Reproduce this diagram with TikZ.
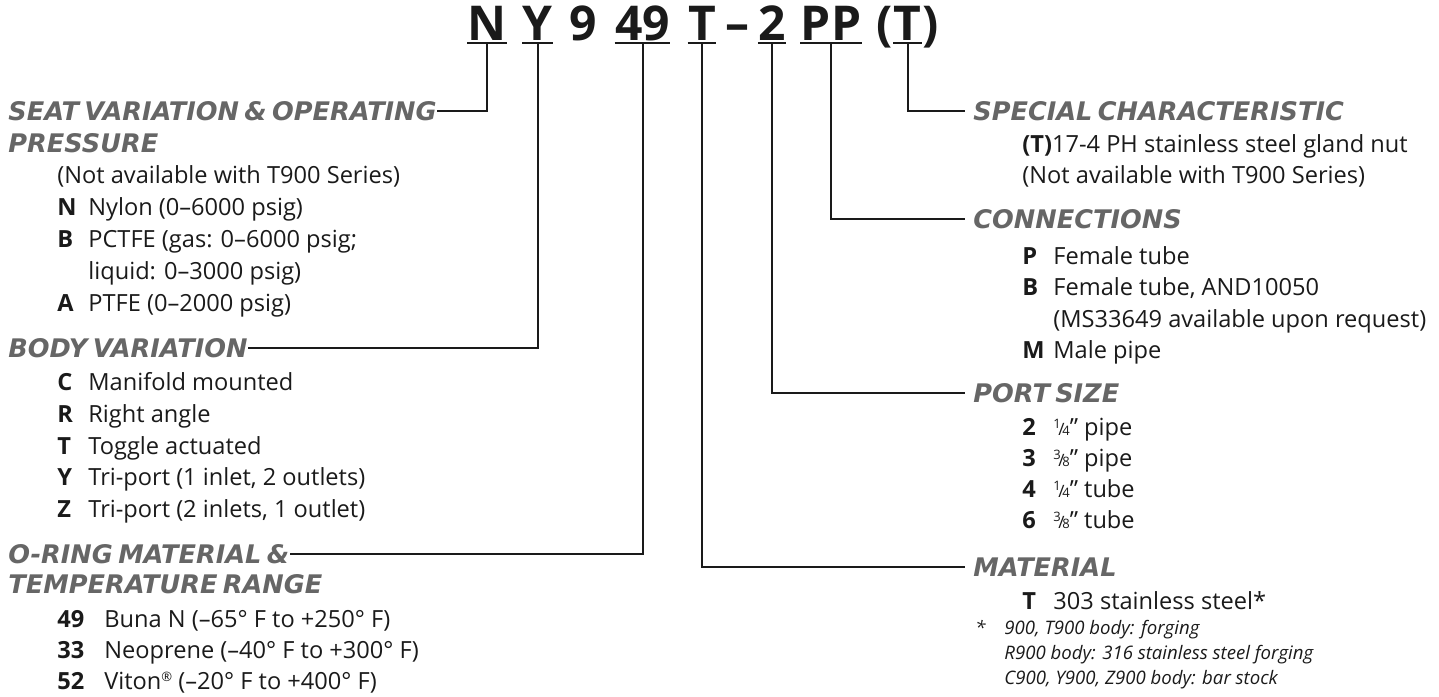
\documentclass[tikz,border=0pt]{standalone}
\usepackage{fontspec}
\setmainfont{Open Sans}
\newfontfamily\headfont[WordSpace=0.6]{DejaVu Sans}
\usetikzlibrary{positioning}
\definecolor{headgray}{HTML}{666666}
\definecolor{inkblack}{HTML}{1A1A1A}
\newcommand\codeone[1]{\makebox[15.5pt][l]{\bfseries #1}}
\newcommand\codetwo[1]{\makebox[23.5pt][l]{\bfseries #1}}
\newcommand\pfrac[2]{\raisebox{.55ex}{\fontsize{6.5}{6.5}\selectfont #1}\kern-.1em{\fontsize{8.5}{8.5}\selectfont/}\kern-.1em{\fontsize{6.5}{6.5}\selectfont #2}}
\newcommand\inch{\textquotedblright}
\newcommand\regmark{\raisebox{.6ex}{\fontsize{6.5}{6.5}\selectfont\textregistered}}

\begin{document}
\begin{tikzpicture}[x=0.5pt, y=-0.5pt,
  title/.style={inner sep=0pt, anchor=base, font=\fontsize{24}{30}\selectfont\bfseries, text=inkblack},
  head/.style={inner sep=0pt, anchor=base west, font=\headfont\fontsize{12.8}{15}\selectfont\bfseries\itshape, text=headgray},
  item/.style={inner sep=0pt, anchor=base west, font=\fontsize{11.8}{14}\selectfont, text=inkblack},
  note/.style={inner sep=0pt, anchor=base west, font=\fontsize{9.3}{11}\selectfont\itshape, text=inkblack},
  uline/.style={line width=1pt, draw=inkblack},
  link/.style={line width=1pt, draw=inkblack}]

\useasboundingbox (0,0) rectangle (1439,696);

% part number
\node[title] (tN) at (487,40) {N};
\node[title] (tY) at (537.5,40) {Y};
\node[title] (t9) at (583.5,40) {9};
\node[title] (t49) at (642.5,40) {49};
\node[title] (tT) at (702,40) {T};
\node[title] (tDash) at (737.5,40) {--};
\node[title] (t2) at (772,40) {2};
\node[title] (tPP) at (831,40) {PP};
\node[title] (tS) at (907.5,40) {T};
\node[title, base left=0pt of tS] (tSl) {(};
\node[title, base right=0pt of tS] (tSr) {)};

\draw[uline] ([yshift=-1.5pt]tN.base west) -- ([yshift=-1.5pt]tN.base east);
\draw[uline] ([yshift=-1.5pt]tY.base west) -- ([yshift=-1.5pt]tY.base east);
\draw[uline] ([yshift=-1.5pt]t49.base west) -- ([yshift=-1.5pt]t49.base east);
\draw[uline] ([yshift=-1.5pt]tT.base west) -- ([yshift=-1.5pt]tT.base east);
\draw[uline] ([yshift=-1.5pt]t2.base west) -- ([yshift=-1.5pt]t2.base east);
\draw[uline] ([yshift=-1.5pt]tPP.base west) -- ([yshift=-1.5pt]tPP.base east);
\draw[uline] ([yshift=-1.5pt]tS.base west) -- ([yshift=-1.5pt]tS.base east);

% left column
\node[head] (hSeat) at (8,120) {SEAT VARIATION \& OPERATING};
\node[head] (hSeat2) at (8,152) {PRESSURE};
\node[item] (sNote) at (57,183) {(Not available with T900 Series)};
\node[item] (sN) at (57,215) {\codeone{N}Nylon (0--6000 psig)};
\node[item] (sB) at (57,247) {\codeone{B}PCTFE (gas: 0--6000 psig;};
\node[item] (sB2) at (88,279) {liquid: 0--3000 psig)};
\node[item] (sA) at (57,311) {\codeone{A}PTFE (0--2000 psig)};

\node[head] (hBody) at (8,357) {BODY VARIATION};
\node[item] (bC) at (57,390) {\codeone{C}Manifold mounted};
\node[item] (bR) at (57,422) {\codeone{R}Right angle};
\node[item] (bT) at (57,454) {\codeone{T}Toggle actuated};
\node[item] (bY) at (57,485) {\codeone{Y}Tri-port (1 inlet, 2 outlets)};
\node[item] (bZ) at (57,517) {\codeone{Z}Tri-port (2 inlets, 1 outlet)};

\node[head] (hOring) at (8,563) {O-RING MATERIAL \&};
\node[head] (hOring2) at (8,593) {TEMPERATURE RANGE};
\node[item] (o49) at (57,627) {\codetwo{49}Buna N (--65° F to +250° F)};
\node[item] (o33) at (57,658) {\codetwo{33}Neoprene (--40° F to +300° F)};
\node[item] (o52) at (57,689) {\codetwo{52}Viton\regmark{} (--20° F to +400° F)};

% right column
\node[head] (hSpec) at (973,120) {SPECIAL CHARACTERISTIC};
\node[item] (pT) at (1022,152) {\textbf{(T)}17-4 PH stainless steel gland nut};
\node[item] (pNote) at (1022,183) {(Not available with T900 Series)};

\node[head] (hConn) at (973,228) {CONNECTIONS};
\node[item] (cP) at (1022,264) {\codeone{P}Female tube};
\node[item] (cB) at (1022,295) {\codeone{B}Female tube, AND10050};
\node[item] (cB2) at (1053,327) {(MS33649 available upon request)};
\node[item] (cM) at (1022,358) {\codeone{M}Male pipe};

\node[head] (hPort) at (973,402) {PORT SIZE};
\node[item] (z2) at (1022,435) {\codeone{2}\pfrac{1}{4}\inch{} pipe};
\node[item] (z3) at (1022,466) {\codeone{3}\pfrac{3}{8}\inch{} pipe};
\node[item] (z4) at (1022,497) {\codeone{4}\pfrac{1}{4}\inch{} tube};
\node[item] (z6) at (1022,528) {\codeone{6}\pfrac{3}{8}\inch{} tube};

\node[head] (hMat) at (973,576) {MATERIAL};
\node[item] (mT) at (1022,609) {\codeone{T}303 stainless steel*};
\node[note] (fStar) at (975,634) {*};
\node[note] (f1) at (1004,634) {900, T900 body: forging};
\node[note] (f2) at (1004,659) {R900 body: 316 stainless steel forging};
\node[note] (f3) at (1004,684) {C900, Y900, Z900 body: bar stock};

% leader lines
\draw[link] ([yshift=-1.5pt]tN.base) |- (hSeat.east);
\draw[link] ([yshift=-1.5pt]tY.base) |- (hBody.east);
\draw[link] ([yshift=-1.5pt]t49.base) |- (hOring.east);
\draw[link] ([yshift=-1.5pt]tT.base) |- ([xshift=-4pt]hMat.west);
\draw[link] ([yshift=-1.5pt]t2.base) |- ([xshift=-4pt]hPort.west);
\draw[link] ([yshift=-1.5pt]tPP.base) |- ([xshift=-4pt]hConn.west);
\draw[link] ([yshift=-1.5pt]tS.base) |- ([xshift=-4pt]hSpec.west);
\end{tikzpicture}
\end{document}
